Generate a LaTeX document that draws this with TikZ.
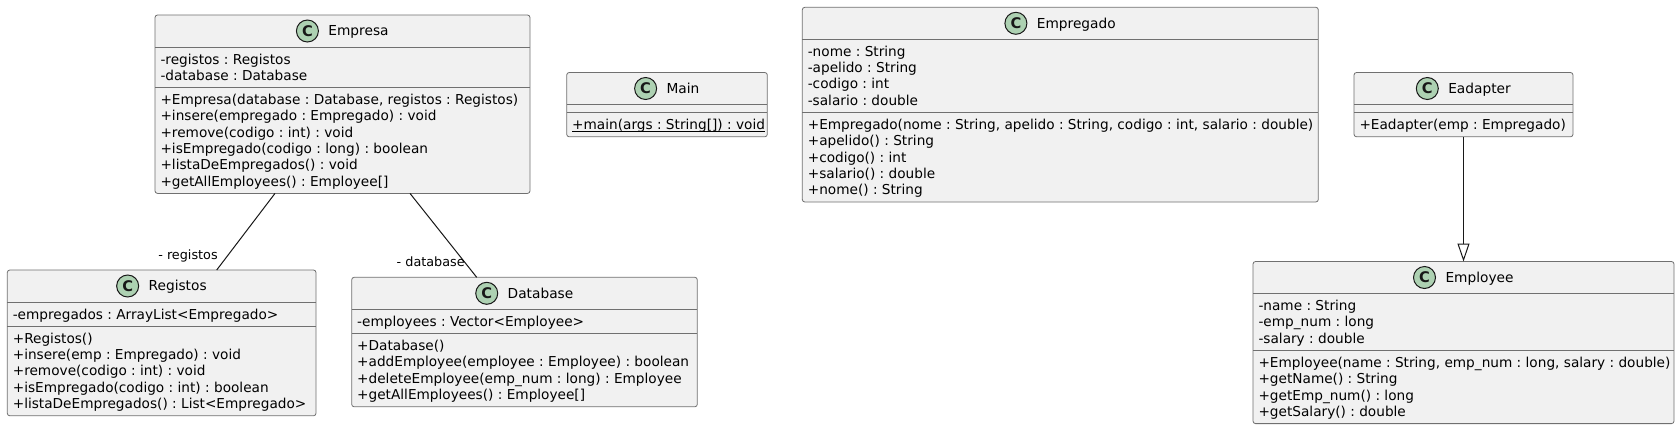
\documentclass[tikz,border=0pt]{standalone}
\usepackage{fontspec}
\setmainfont{DejaVu Sans}
\usetikzlibrary{calc,arrows.meta}
\frenchspacing
\definecolor{boxfill}{HTML}{F1F1F1}
\definecolor{boxline}{HTML}{707070}
\definecolor{ink}{HTML}{181818}
\definecolor{circfill}{HTML}{ADD1B2}
\newcommand\ls{\rule{0pt}{9.75pt}\rule[-2.475pt]{0pt}{0pt}}
\newcommand\ulin[1]{\setbox0\hbox{#1}\rlap{\rule[-1.9pt]{\wd0}{0.6pt}}\box0}
\tikzset{
  classbox/.style={draw=boxline, fill=boxfill, line width=0.6pt, rounded corners=1.9pt, inner sep=0pt, outer sep=0pt, anchor=north west},
  sepline/.style={draw=boxline, line width=0.6pt},
  titletext/.style={inner sep=0pt, outer sep=0pt, font=\fontsize{10.3pt}{12.225pt}\selectfont, text=black},
  membertext/.style={inner sep=0pt, outer sep=0pt, align=left, anchor=north west, font=\fontsize{10.25pt}{12.225pt}\selectfont, text=black},
  circstyle/.style={circle, draw=ink, fill=circfill, line width=0.75pt, minimum size=16.5pt, inner sep=0pt, font=\fontsize{11pt}{11pt}\selectfont\bfseries, text=ink},
  conn/.style={draw=ink, line width=0.75pt},
  lbl/.style={inner sep=0pt, font=\fontsize{9.6pt}{11pt}\selectfont, text=black}
}
\newcommand\umlclass[9]{%
  \pgfmathsetmacro\ya{#3+32}%
  \pgfmathsetmacro\yb{\ya+8+16.3*#6}%
  \pgfmathsetmacro\yc{\yb+8+16.3*#8}%
  \pgfmathsetmacro\bwd{(#4-#2)*0.75}%
  \pgfmathsetmacro\bhg{(\yc-#3)*0.75}%
  \node[classbox, minimum width=\bwd pt, minimum height=\bhg pt] (#1) at (#2,#3) {};
  \draw[sepline] (#2,\ya) -- (#4,\ya);
  \draw[sepline] (#2,\yb) -- (#4,\yb);
  \node[titletext] (#1-title) at ({(#2+#4)/2},{#3+16}) {\ls\hspace*{24pt}#5};
  \node[circstyle] (#1-c) at ($(#1-title.west)+(11,0)$) {C};
  \node[membertext] (#1-attrs) at ({#2+5.5},{\ya+4}) {#7};
  \node[membertext] (#1-meths) at ({#2+5.5},{\yb+4}) {#9};
}
\begin{document}
\begin{tikzpicture}[x=0.75pt,y=-0.75pt]
\useasboundingbox[fill=white] (0,0) rectangle (1680,429);
\umlclass{empresa}{155}{15}{530}{Empresa}{2}{\ls -registos : Registos\\\ls -database : Database}{6}{\ls +Empresa(database : Database, registos : Registos)\\\ls +insere(empregado : Empregado) : void\\\ls +remove(codigo : int) : void\\\ls +isEmpregado(codigo : long) : boolean\\\ls +listaDeEmpregados() : void\\\ls +getAllEmployees() : Employee[]}
\umlclass{main}{566.7}{72.5}{767.3}{Main}{0}{}{1}{\ls\ulin{+main(args : String[]) : void}}
\umlclass{empregado}{802.3}{7.3}{1318.3}{Empregado}{4}{\ls -nome : String\\\ls -apelido : String\\\ls -codigo : int\\\ls -salario : double}{5}{\ls +Empregado(nome : String, apelido : String, codigo : int, salario : double)\\\ls +apelido() : String\\\ls +codigo() : int\\\ls +salario() : double\\\ls +nome() : String}
\umlclass{eadapter}{1354}{72.5}{1573}{Eadapter}{0}{}{1}{\ls +Eadapter(emp : Empregado)}
\umlclass{registos}{7.3}{270}{316}{Registos}{1}{\ls -empregados : ArrayList<Empregado>}{5}{\ls +Registos()\\\ls +insere(emp : Empregado) : void\\\ls +remove(codigo : int) : void\\\ls +isEmpregado(codigo : int) : boolean\\\ls +listaDeEmpregados() : List<Empregado>}
\umlclass{database}{351.7}{277.3}{697.3}{Database}{1}{\ls -employees : Vector<Employee>}{4}{\ls +Database()\\\ls +addEmployee(employee : Employee) : boolean\\\ls +deleteEmployee(emp\_num : long) : Employee\\\ls +getAllEmployees() : Employee[]}
\umlclass{employee}{1253}{261.5}{1674}{Employee}{3}{\ls -name : String\\\ls -emp\_num : long\\\ls -salary : double}{4}{\ls +Employee(name : String, emp\_num : long, salary : double)\\\ls +getName() : String\\\ls +getEmp\_num() : long\\\ls +getSalary() : double}
% connectors
\draw[conn] ($(empresa.south west)+(120,0)$) -- ($(registos.north west)+(209.4,0)$);
\draw[conn] ($(empresa.south west)+(255,0)$) -- ($(database.north west)+(125,0)$);
\node[lbl, anchor=base east] (lreg) at (218,259) {- registos};
\node[lbl, anchor=base east] (ldb) at (465,266.5) {- database};
\draw[conn, line join=miter, -{Triangle[open, length=13.5pt, width=9pt, line width=0.75pt]}] (eadapter.south) -- (employee.north);
\end{tikzpicture}
\end{document}
